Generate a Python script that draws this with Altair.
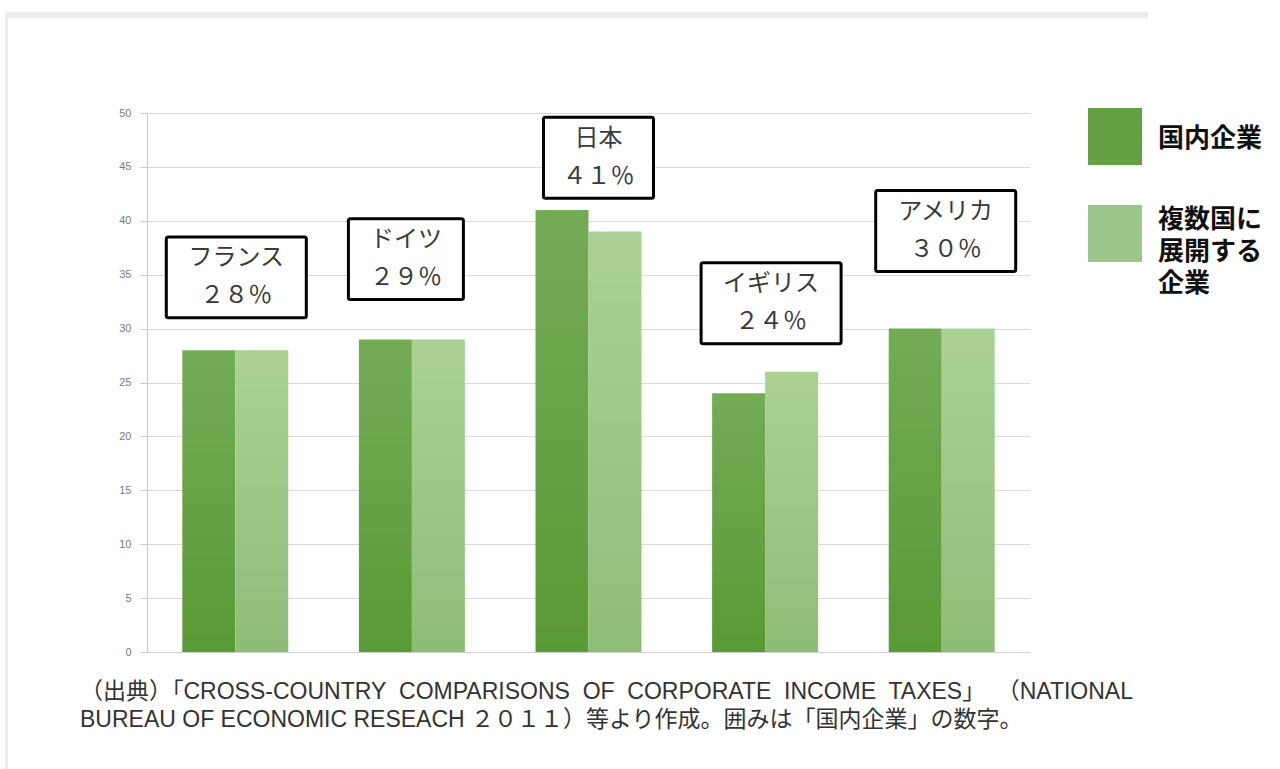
import altair as alt
import pandas as pd

# ---- data ----
countries = ["フランス", "ドイツ", "日本", "イギリス", "アメリカ"]
series_names = ["国内企業", "複数国に展開する企業"]
domestic = [28, 29, 41, 24, 30]
multinational = [28, 29, 39, 26, 30]
label_pct = ["２８％", "２９％", "４１％", "２４％", "３０％"]
label_level = [31.0, 32.7, 42.1, 28.6, 35.3]   # lower edge of each callout box, in % units
y_ticks = [0, 5, 10, 15, 20, 25, 30, 35, 40, 45, 50]
source_lines = [
    "（出典）「CROSS-COUNTRY\u00a0 COMPARISONS\u00a0 OF\u00a0 CORPORATE\u00a0 INCOME\u00a0 TAXES」\u2002（NATIONAL",
    "BUREAU OF ECONOMIC RESEACH ２０１１）等より作成。囲みは「国内企業」の数字。",
]
legend_lines_1 = ["国内企業"]
legend_lines_2 = ["複数国に", "展開する", "企業"]

# ---- layout / style (not data) ----
FONT = "Noto Sans CJK JP"
SRC_FONT = "Liberation Sans, Noto Sans CJK JP"
W, H = 883, 539
BOX_H = 7.5
BOX_SHIFT = {"フランス": 1, "ドイツ": -6, "日本": 10, "イギリス": 6, "アメリカ": 4}

rows = []
for c, a, b in zip(countries, domestic, multinational):
    rows.append({"country": c, "series": series_names[0], "value": a})
    rows.append({"country": c, "series": series_names[1], "value": b})
df = pd.DataFrame(rows)

box_df = pd.DataFrame({
    "country": countries,
    "pct": label_pct,
    "lo": label_level,
    "hi": [v + BOX_H for v in label_level],
    "mid": [v + BOX_H / 2 for v in label_level],
})

xscale = alt.Scale(domain=countries, paddingInner=0.4, paddingOuter=0.2)
yscale = alt.Scale(domain=[0, 50], nice=False)

dark_grad = alt.LinearGradient(gradient="linear", x1=0, x2=0, y1=0, y2=1,
                               stops=[alt.GradientStop(color="#74ab57", offset=0),
                                      alt.GradientStop(color="#5a9a35", offset=1)])
light_grad = alt.LinearGradient(gradient="linear", x1=0, x2=0, y1=0, y2=1,
                                stops=[alt.GradientStop(color="#abd195", offset=0),
                                       alt.GradientStop(color="#90bc79", offset=1)])

base = alt.Chart(df)

x_enc = alt.X("country:N", scale=xscale, sort=countries,
              axis=alt.Axis(labels=False, ticks=False, title=None, domain=True,
                            domainColor="#d0d0d0", grid=False))
y_enc = alt.Y("value:Q", scale=yscale,
              axis=alt.Axis(values=y_ticks, title=None, grid=True, gridColor="#d9d9d9",
                            domain=True, domainColor="#c8c8c8", tickColor="#c8c8c8",
                            tickSize=7, labelPadding=9, labelFontSize=11,
                            labelColor="#7a7a7a", labelFont="Liberation Sans"))
xoff = alt.XOffset("series:N", scale=alt.Scale(domain=series_names, paddingInner=0, paddingOuter=0))

bars1 = base.transform_filter(alt.datum.series == series_names[0]).mark_bar(
    fill=dark_grad).encode(x=x_enc, y=y_enc, xOffset=xoff)
bars2 = base.transform_filter(alt.datum.series == series_names[1]).mark_bar(
    fill=light_grad).encode(x=x_enc, y=y_enc, xOffset=xoff)

layers = [bars1, bars2]

xs = alt.X("country:N", scale=xscale, sort=countries)
ys = alt.Y("mid:Q", scale=yscale)

# callout boxes + texts
for i, c in enumerate(countries):
    n = len(c)
    w = max(110, 25 * n + 40)
    dx = BOX_SHIFT[c]
    sub = alt.Chart(box_df.iloc[[i]])
    box = sub.mark_bar(width=w, fill="white", stroke="black", strokeWidth=3,
                       cornerRadius=2, xOffset=dx).encode(
        x=xs, y=alt.Y("lo:Q", scale=yscale), y2="hi:Q")
    t_name = sub.mark_text(font=FONT, fontSize=24, color="#3a3a3a", dy=-19, dx=dx).encode(
        x=xs, y=ys, text="country:N")
    t_pct = sub.mark_text(font=FONT, fontSize=24, color="#3a3a3a", dy=19, dx=dx).encode(
        x=xs, y=ys, text="pct:N")
    layers += [box, t_name, t_pct]

# legend (manual)
one = pd.DataFrame({"k": [0]})
leg_sq1 = alt.Chart(one).mark_rect(fill="#65a044").encode(
    x=alt.value(941), x2=alt.value(995), y=alt.value(-5), y2=alt.value(52))
leg_sq2 = alt.Chart(one).mark_rect(fill="#9dc78a").encode(
    x=alt.value(941), x2=alt.value(995), y=alt.value(92), y2=alt.value(149))
layers += [leg_sq1, leg_sq2]

leg_y1 = [26]
leg_y2 = [107, 139, 171]
for t, yy in list(zip(legend_lines_1, leg_y1)) + list(zip(legend_lines_2, leg_y2)):
    layers.append(
        alt.Chart(pd.DataFrame({"t": [t]})).mark_text(
            font=FONT, fontSize=26, fontWeight="bold", align="left",
            baseline="middle", color="#111").encode(
            x=alt.value(1011), y=alt.value(yy), text="t:N"))

# source note
for t, yy in zip(source_lines, [579, 607]):
    layers.append(
        alt.Chart(pd.DataFrame({"t": [t]})).mark_text(
            font=SRC_FONT, fontSize=23, align="left", baseline="middle",
            color="#333").encode(
            x=alt.value(-67), y=alt.value(yy), text="t:N"))

# frame lines
frame_top = alt.Chart(one).mark_rect(fill="#ececec").encode(
    x=alt.value(-142), x2=alt.value(1001), y=alt.value(-101), y2=alt.value(-95))
frame_left = alt.Chart(one).mark_rect(fill="#ececec").encode(
    x=alt.value(-142), x2=alt.value(-139), y=alt.value(-101), y2=alt.value(660))
layers += [frame_top, frame_left]

chart = alt.layer(*layers).properties(
    width=W, height=H,
    padding={"left": 147, "top": 113, "right": 1280 - 147 - W, "bottom": 769 - 113 - H},
    autosize=alt.AutoSizeParams(type="none"),
    background="white",
).configure_view(stroke=None)

chart.save("out.html", embed_options={"renderer": "svg", "actions": False})
